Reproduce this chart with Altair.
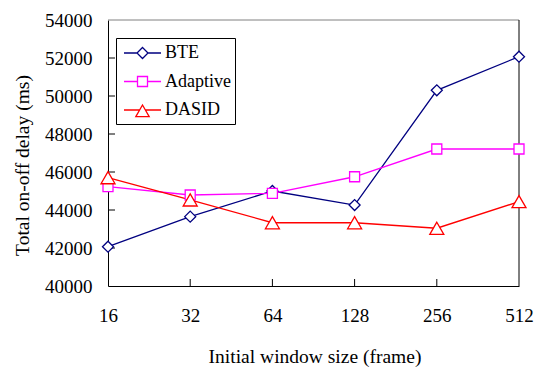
import altair as alt
import pandas as pd

categories = ["16", "32", "64", "128", "256", "512"]
series_names = ["BTE", "Adaptive", "DASID"]
bte = [42070, 43650, 45000, 44260, 50300, 52070]
adaptive = [45230, 44790, 44880, 45750, 47210, 47210]
dasid = [45700, 44530, 43330, 43330, 43040, 44440]
colors = ["#000080", "#FF00FF", "#FF0000"]
shapes = ["diamond", "square", "triangle-up"]
y_tick_values = [40000, 42000, 44000, 46000, 48000, 50000, 52000, 54000]
y_inner_ticks = [42000, 44000, 46000, 48000, 50000, 52000]
x_inner_ticks = ["32", "64", "128", "256"]

# legend symbols: line segment + marker
legend_paths = [
    "M-1.85,0H-0.55M0.55,0H1.85M0,-0.55L0.55,0L0,0.55L-0.55,0Z",
    "M-1.85,0H-0.5M0.5,0H1.85M-0.5,-0.5H0.5V0.5H-0.5Z",
    "M-1.85,0H-0.29M0.29,0H1.85M0,-0.5L0.67,0.66L-0.67,0.66Z",
]

rows = []
for name, vals in zip(series_names, [bte, adaptive, dasid]):
    for c, v in zip(categories, vals):
        rows.append({"size": c, "value": v, "series": name})
df = pd.DataFrame(rows)

W, H = 411, 266
FONT = "Liberation Serif, Times New Roman, serif"

x_axis = alt.Axis(
    title="Initial window size (frame)", labelAngle=0, ticks=False, grid=False,
    domainColor="black", domainWidth=1, labelFont=FONT, labelFontSize=19,
    labelColor="black", labelPadding=20, titleFont=FONT, titleFontSize=19.5,
    titleFontWeight="normal", titleColor="black", titleX=206.5, titleY=70,
    titleBaseline="middle", titleAlign="center",
)
y_axis = alt.Axis(
    title="Total on-off delay (ms)", values=y_tick_values, format="d", ticks=False,
    grid=False, domainColor="black", domainWidth=1, labelFont=FONT, labelFontSize=19,
    labelColor="black", labelPadding=16, titleFont=FONT, titleFontSize=19.5,
    titleFontWeight="normal", titleColor="black", titleX=-86, titleY=145,
    titleAngle=270, titleAlign="center", titleBaseline="middle",
)


def xenc(field="size"):
    return alt.X(f"{field}:O", sort=categories,
                 scale=alt.Scale(type="point", padding=0, domain=categories), axis=x_axis)


def yenc(field="value"):
    return alt.Y(f"{field}:Q", scale=alt.Scale(domain=[40000, 54000], nice=False, zero=False),
                 axis=y_axis)


ytick_df = pd.DataFrame({"value": y_inner_ticks})
xtick_df = pd.DataFrame({"size": x_inner_ticks})

ytick_layer = alt.Chart(ytick_df).mark_rule(color="black", strokeWidth=1).encode(
    y=yenc(), x=alt.value(0), x2=alt.value(7))
xtick_layer = alt.Chart(xtick_df).mark_rule(color="black", strokeWidth=1).encode(
    x=xenc(), y=alt.value(H - 7), y2=alt.value(H))

frame_df = pd.DataFrame({"k": [0]})
top_rule = alt.Chart(frame_df).mark_rule(color="#808080", strokeWidth=1).encode(
    x=alt.value(0), x2=alt.value(W), y=alt.value(0))
right_rule = alt.Chart(frame_df).mark_rule(color="black", strokeWidth=1).encode(
    x=alt.value(W), y=alt.value(0), y2=alt.value(H))

marker_sizes = [121, 100, 196]
line_layers = []
point_layers = []
for name, col, shp, sz in zip(series_names, colors, shapes, marker_sizes):
    base = alt.Chart(df).transform_filter(alt.datum.series == name)
    line_layers.append(
        base.mark_line(strokeWidth=1.3, color=col).encode(x=xenc(), y=yenc())
    )
    point_layers.append(
        base.mark_point(
            shape=shp, size=sz, filled=True, fill="white", stroke=col, strokeWidth=1.3, opacity=1
        ).encode(x=xenc(), y=yenc())
    )

leg = alt.Legend(
    title=None, orient="none", legendX=8, legendY=18, labelFont=FONT, labelFontSize=18,
    labelColor="black", symbolSize=400, symbolStrokeWidth=1.3, symbolFillColor="white",
    symbolOpacity=1, symbolOffset=11.5, labelOffset=11.5, rowPadding=8.5, padding=4,
    strokeColor="black", fillColor="white", cornerRadius=0,
)
legend_layer = alt.Chart(df).mark_point(filled=True, fill="white", opacity=0).encode(
    x=xenc(), y=yenc(),
    stroke=alt.Stroke("series:N", scale=alt.Scale(domain=series_names, range=colors), legend=leg),
    shape=alt.Shape("series:N", scale=alt.Scale(domain=series_names, range=legend_paths), legend=leg),
)

chart = alt.layer(
    ytick_layer, xtick_layer, top_rule, right_rule, *line_layers, *point_layers, legend_layer
).properties(
    width=W, height=H,
    autosize=alt.AutoSizeParams(type="none"),
    padding={"left": 108, "top": 20, "right": 17, "bottom": 81},
    background="white",
).configure_view(stroke=None)

chart.save("out.html", embed_options={"renderer": "svg", "actions": False})
